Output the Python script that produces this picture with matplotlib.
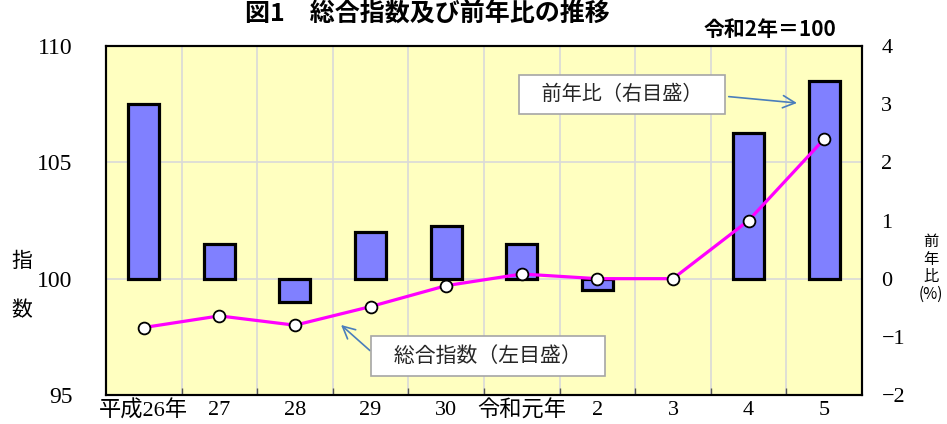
import numpy as np
from matplotlib import pyplot as plt

plt.rcParams['font.family'] = ['Liberation Serif', 'Noto Sans CJK JP']

# data
years = ['平成26年', '27', '28', '29', '30', '令和元年', '2', '3', '4', '5']
index = [97.9, 98.4, 98.0, 98.8, 99.7, 100.2, 100.0, 100.0, 102.5, 106.0]  # 総合指数 (left)
yoy = [3.0, 0.6, -0.4, 0.8, 0.9, 0.6, -0.2, 0.0, 2.5, 3.4]  # 前年比 % (right)

x = np.arange(len(years))
cjk = ['Noto Sans CJK JP']

fig = plt.figure(figsize=(9.47, 4.24), dpi=100)
ax = fig.add_axes([0.1119, 0.0684, 0.7983, 0.8231])
ax2 = ax.twinx()

# line axis on top of bar axis
ax.set_zorder(ax2.get_zorder() + 1)
ax.patch.set_visible(False)
ax2.patch.set_visible(True)
ax2.patch.set_facecolor('#FFFFC0')

# grid behind bars
for b in np.arange(0.5, len(years) - 1):
    ax2.axvline(b, color='#D9D9D9', lw=1.2, zorder=0)
for v in [0, 2]:
    ax2.axhline(v, color='#D9D9D9', lw=1.2, zorder=0)

# bars (skip zero so no flat outline is drawn)
bx = [xi for xi, v in zip(x, yoy) if v != 0]
bv = [v for v in yoy if v != 0]
ax2.bar(bx, bv, width=0.41, color='#8080FF', edgecolor='black', linewidth=2.3, zorder=3)

ax.plot(x, index, color='#FF00FF', lw=2.3, marker='o', ms=8.5,
        mfc='white', mec='black', mew=1.3, zorder=4)

ax.set_xlim(-0.5, len(years) - 0.5)
ax.set_ylim(95, 110)
ax2.set_ylim(-2, 4)
ax.set_yticks([95, 100, 105, 110])
ax2.set_yticks(np.arange(-2, 5))

ax.set_xticks(x)
ax.set_xticklabels(years)
ax.set_xticks(np.arange(0.5, len(years) - 1), minor=True)
ax.tick_params(axis='x', which='major', length=0, labelsize=16, pad=4)
ax.tick_params(axis='x', which='minor', direction='in', length=5, width=1, color='#555555')
ax.tick_params(axis='y', length=0, labelsize=17, pad=24)
ax2.tick_params(axis='y', length=0, labelsize=16, pad=14)
ax2.tick_params(axis='x', which='both', length=0, labelbottom=False)

for sp in ax.spines.values():
    sp.set_linewidth(1.5)
    sp.set_color('black')
for sp in ax2.spines.values():
    sp.set_linewidth(1.5)
    sp.set_color('black')

# titles and axis labels
fig.text(427 / 947, 1 - 15 / 424, '図1\u3000総合指数及び前年比の推移', family=cjk,
         fontsize=18, fontweight='bold', ha='center', va='center')
fig.text(836 / 947, 1 - 30 / 424, '令和2年＝100', family=cjk,
         fontsize=15, fontweight='bold', ha='right', va='center')
fig.text(22 / 947, 1 - 261 / 424, '指', family=cjk, fontsize=15, ha='center', va='center')
fig.text(22 / 947, 1 - 310 / 424, '数', family=cjk, fontsize=15, ha='center', va='center')
fig.text(931 / 947, 1 - 268 / 424, '前\n年\n比\n(%)', family=cjk, fontsize=11,
         ha='center', va='center', linespacing=1.05)

# callouts
box = dict(boxstyle='square,pad=0.45', fc='white', ec='#A6A6A6', lw=1.2)
ax.annotate('   前年比（右目盛）   ', xy=(8.64, 107.55), xytext=(6.33, 107.92),
            family=cjk, fontsize=14.5, color='#262626', ha='center', va='center', bbox=box,
            arrowprops=dict(arrowstyle='->', color='#4A7EBB', lw=1.2, mutation_scale=22,
                            relpos=(1, 0.45), shrinkA=2, shrinkB=0), zorder=6)
ax.annotate('   総合指数（左目盛）   ', xy=(2.61, 98.01), xytext=(4.55, 96.68),
            family=cjk, fontsize=15, color='#262626', ha='center', va='center', bbox=box,
            arrowprops=dict(arrowstyle='->', color='#4A7EBB', lw=1.2, mutation_scale=22,
                            relpos=(0, 0.34), shrinkA=0, shrinkB=0), zorder=6)

plt.savefig('out.png', dpi=100)
